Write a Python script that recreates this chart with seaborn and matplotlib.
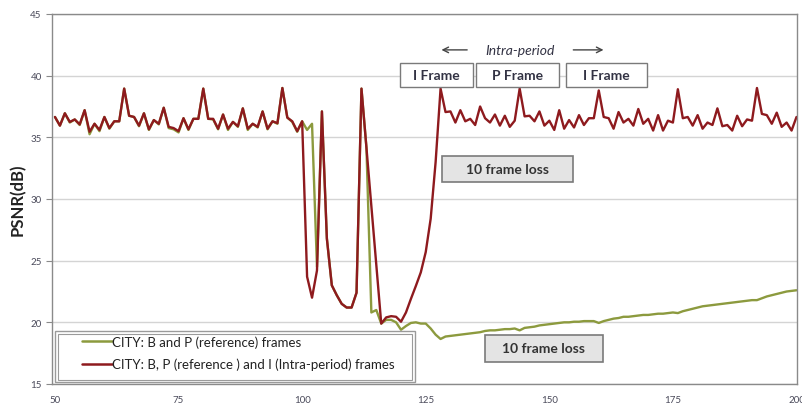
import matplotlib
matplotlib.use("Agg")
import matplotlib.pyplot as plt
from matplotlib.patches import Rectangle
from matplotlib.lines import Line2D
import seaborn as sns
import numpy as np
import pandas as pd

# frame numbers 50..200
frames = list(range(50, 201))

# CITY: B, P (reference) and I (intra-period) frames  -- red
psnr_bpi = [
    36.65, 35.95, 36.95, 36.25, 36.45, 36.05, 37.2, 35.45, 36.1, 35.6,      # 50-59
    36.65, 35.75, 36.3, 36.3, 38.95, 36.75, 36.65, 35.95, 36.95, 35.65,    # 60-69
    36.4, 36.1, 37.4, 35.85, 35.75, 35.5, 36.55, 35.65, 36.5, 36.5,        # 70-79
    38.95, 36.5, 36.5, 35.7, 36.85, 35.7, 36.25, 35.9, 37.35, 35.7,        # 80-89
    36.1, 35.85, 37.1, 35.7, 36.3, 36.15, 39.0, 36.6, 36.3, 35.5,          # 90-99
    36.3, 23.7, 22.0, 24.2, 37.1, 26.8, 23.0, 22.2, 21.5, 21.2,            # 100-109
    21.2, 22.4, 38.95, 34.2, 29.5, 24.8, 19.9, 20.4, 20.5, 20.45,          # 110-119
    20.05, 20.8, 21.9, 22.95, 24.05, 25.7, 28.4, 33.0, 38.95, 37.05,       # 120-129
    37.1, 36.2, 37.2, 36.3, 36.5, 36.0, 37.5, 36.55, 36.2, 36.85,          # 130-139
    35.95, 36.75, 35.85, 36.35, 38.95, 36.7, 36.75, 36.3, 37.1, 35.95,     # 140-149
    36.35, 35.6, 37.2, 35.7, 36.4, 35.8, 36.8, 36.0, 36.55, 36.55,         # 150-159
    38.8, 36.65, 36.55, 35.7, 37.05, 36.2, 36.5, 35.95, 37.3, 36.1,        # 160-169
    36.5, 35.55, 36.8, 35.55, 36.35, 36.2, 38.9, 36.55, 36.65, 35.95,      # 170-179
    36.8, 35.7, 36.2, 36.0, 37.35, 35.9, 36.0, 35.55, 36.75, 35.9,         # 180-189
    36.45, 36.35, 39.0, 36.9, 36.8, 36.1, 37.0, 35.85, 36.2, 35.55,        # 190-199
    36.65,                                                                 # 200
]

# CITY: B and P (reference) frames -- green
psnr_bp = [
    36.65, 35.95, 36.95, 36.2, 36.45, 36.0, 37.2, 35.25, 36.1, 35.5,       # 50-59
    36.65, 35.7, 36.3, 36.3, 38.95, 36.75, 36.65, 35.9, 36.95, 35.6,       # 60-69
    36.4, 36.05, 37.4, 35.75, 35.65, 35.4, 36.55, 35.6, 36.5, 36.5,        # 70-79
    38.95, 36.5, 36.45, 35.65, 36.85, 35.6, 36.25, 35.85, 37.35, 35.6,     # 80-89
    36.1, 35.8, 37.1, 35.65, 36.3, 36.1, 39.0, 36.6, 36.25, 35.45,         # 90-99
    36.3, 35.6, 36.1, 24.5, 37.1, 26.8, 23.0, 22.2, 21.5, 21.2,            # 100-109
    21.2, 22.4, 38.95, 34.2, 20.8, 21.0, 19.9, 20.2, 20.2, 20.0,           # 110-119
    19.4, 19.7, 19.95, 20.0, 19.9, 19.9, 19.5, 19.0, 18.65, 18.85,         # 120-129
    18.9, 18.95, 19.0, 19.05, 19.1, 19.15, 19.2, 19.3, 19.35, 19.35,       # 130-139
    19.4, 19.45, 19.45, 19.5, 19.35, 19.55, 19.6, 19.65, 19.75, 19.8,      # 140-149
    19.85, 19.9, 19.95, 20.0, 20.0, 20.05, 20.05, 20.1, 20.1, 20.1,        # 150-159
    19.95, 20.1, 20.2, 20.3, 20.35, 20.45, 20.45, 20.5, 20.55, 20.6,       # 160-169
    20.6, 20.65, 20.7, 20.7, 20.75, 20.8, 20.75, 20.9, 21.0, 21.1,         # 170-179
    21.2, 21.3, 21.35, 21.4, 21.45, 21.5, 21.55, 21.6, 21.65, 21.7,        # 180-189
    21.75, 21.8, 21.8, 21.95, 22.1, 22.2, 22.3, 22.4, 22.5, 22.55,         # 190-199
    22.6,                                                                  # 200
]

label_bp = "CITY: B and P (reference) frames"
label_bpi = "CITY: B, P (reference ) and I (Intra-period) frames"
green = "#8C9A3E"
red = "#8E1A1E"

df = pd.concat([
    pd.DataFrame({"Frame": frames, "PSNR": psnr_bp, "series": label_bp}),
    pd.DataFrame({"Frame": frames, "PSNR": psnr_bpi, "series": label_bpi}),
])

sns.set_style("white")
plt.rcParams["font.family"] = ["Lato", "DejaVu Sans"]

fig = plt.figure(figsize=(8.03, 4.06), dpi=100)
ax = fig.add_axes([52 / 803, 21 / 406, 745 / 803, 370 / 406])

sns.lineplot(data=df, x="Frame", y="PSNR", hue="series",
             hue_order=[label_bp, label_bpi], palette=[green, red],
             linewidth=1.7, legend=False, ax=ax)

ax.set_xlim(49.4, 200.1)
ax.set_ylim(15, 45)
ax.set_xticks(range(50, 201, 25))
ax.set_yticks(range(15, 46, 5))
ax.yaxis.grid(True, color="#d4d4d4", linewidth=1)
ax.set_axisbelow(True)
for s in ax.spines.values():
    s.set_color("#8a8a8a")
    s.set_linewidth(1)
ax.tick_params(axis="both", labelsize=7, labelcolor="#4a4a5a")
ax.tick_params(axis="y", length=4, color="#8a8a8a", left=True)
ax.tick_params(axis="x", length=0, pad=8)
ax.set_xlabel("")
ax.set_ylabel("PSNR(dB)", fontsize=12, fontweight="bold", color="#222222", labelpad=3)

# legend box (double border)
ax.add_patch(Rectangle((0.004, 0.005), 0.483, 0.137, transform=ax.transAxes,
                       facecolor="white", edgecolor="#9a9a9a", linewidth=1, zorder=4))
ax.add_patch(Rectangle((0.008, 0.011), 0.475, 0.125, transform=ax.transAxes,
                       facecolor="none", edgecolor="#9a9a9a", linewidth=0.8, zorder=4))
handles = [Line2D([], [], color=green, linewidth=1.8), Line2D([], [], color=red, linewidth=1.8)]
leg = ax.legend(handles, [label_bp, label_bpi], loc="lower left",
                bbox_to_anchor=(0.025, 0.005), frameon=False, fontsize=9.5,
                handlelength=2.2, handletextpad=0.0, labelspacing=0.75,
                labelcolor="#222222")
leg.set_zorder(5)

# I / P frame boxes
boxes = [(0.467, 0.098, "I Frame"), (0.569, 0.112, "P Frame"), (0.690, 0.109, "I Frame")]
for x0, w, txt in boxes:
    ax.add_patch(Rectangle((x0, 0.803), w, 0.065, transform=ax.transAxes,
                           facecolor="white", edgecolor="#7a7a7a", linewidth=1, zorder=4))
    ax.text(x0 + w / 2, 0.835, txt, transform=ax.transAxes, ha="center", va="center",
            fontsize=10, fontweight="bold", color="#333344", zorder=5)

# intra-period label with arrows
ax.text(0.628, 0.903, "Intra-period", transform=ax.transAxes, ha="center", va="center",
        fontsize=10, style="italic", color="#333344")
ax.annotate("", xy=(0.519, 0.903), xytext=(0.561, 0.903), xycoords="axes fraction",
            arrowprops=dict(arrowstyle="->", color="#444444", lw=1))
ax.annotate("", xy=(0.744, 0.903), xytext=(0.696, 0.903), xycoords="axes fraction",
            arrowprops=dict(arrowstyle="->", color="#444444", lw=1))

# frame loss boxes
for x0, y0, w in [(0.524, 0.545, 0.175), (0.581, 0.060, 0.158)]:
    ax.add_patch(Rectangle((x0, y0), w, 0.072, transform=ax.transAxes,
                           facecolor="#e4e4e4", edgecolor="#7a7a7a", linewidth=1.2, zorder=4))
    ax.text(x0 + w / 2, y0 + 0.036, "10 frame loss", transform=ax.transAxes,
            ha="center", va="center", fontsize=10, fontweight="bold", color="#333333", zorder=5)

fig.savefig("out.png", dpi=100)
